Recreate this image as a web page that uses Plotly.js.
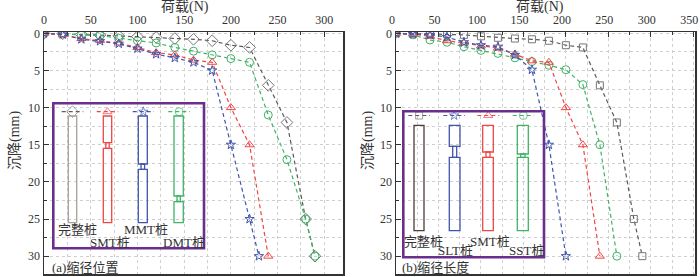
<!DOCTYPE html>
<html><head><meta charset="utf-8">
<script src="https://cdn.plot.ly/plotly-3.0.1.min.js"></script>
<style>html,body{margin:0;padding:0;background:#fff}#chart{width:700px;height:277px}</style>
</head><body><div id="chart"></div>
<script>
// ---------- (a) 缩径位置 ----------
const loadA_intact = [0,20,40,60,80,100,120,140,160,180,200,220,240,260,280,290];
const setA_intact  = [0,0.05,0.15,0.25,0.35,0.45,0.55,0.7,0.8,1.0,1.6,1.9,7.0,12.0,25,30];
const loadA_smt = [0,20,40,60,80,100,120,140,160,180,200,220,240];
const setA_smt  = [0,0.2,0.7,0.95,1.3,1.9,2.6,2.9,3.6,3.9,10,15,30];
const loadA_mmt = [0,20,40,60,80,100,120,140,160,180,200,220,230];
const setA_mmt  = [0,0.15,0.8,1.05,1.4,2.05,2.8,3.3,3.9,5.0,15,25,30];
const loadA_dmt = [0,20,40,60,80,100,120,140,160,180,200,220,240,260,280,290];
const setA_dmt  = [0,0.1,0.25,0.3,0.65,1.0,1.3,1.9,2.4,2.9,3.4,3.9,11,17,25,30];
const namesA = ['完整桩','SMT桩','MMT桩','DMT桩'];

// ---------- (b) 缩径长度 ----------
const loadB_intact = [0,20,40,60,80,100,120,140,160,180,200,220,240,260,280,290];
const setB_intact  = [0,0.05,0.1,0.1,0.2,0.4,0.6,0.7,0.8,1.0,1.6,1.9,7.0,12,25,30];
const loadB_slt = [0,20,40,60,80,100,120,140,160,180,200];
const setB_slt  = [0,0.1,0.2,0.5,1.2,1.6,1.8,2.9,4.9,15,30];
const loadB_smt = [0,20,40,60,80,100,120,140,160,180,200,220,240];
const setB_smt  = [0,0.1,0.4,1.0,1.3,1.7,2.0,2.8,3.7,3.9,10,15,30];
const loadB_sst = [0,20,40,60,80,100,120,140,160,180,200,220,240,260];
const setB_sst  = [0,0.2,0.9,1.2,1.8,2.3,2.7,3.3,3.8,4.3,4.9,6.9,15,30];
const namesB = ['完整桩','SLT桩','SMT桩','SST桩'];

const xTitle = '荷载(N)';
const yTitle = '沉降(mm)';
const panelA = '(a)缩径位置';
const panelB = '(b)缩径长度';

const C = {k:'#5a5a5a', km:'#777777', r:'#f04646', b:'#3f55ad', g:'#3fb368'};
const FONT = 'Liberation Serif, "Noto Sans CJK SC", serif';
const W = 700, H = 277;

function series(x, y, col, mcol, sym, xa, ya, size){
  return {x:x, y:y, xaxis:xa, yaxis:ya, type:'scatter', mode:'lines+markers',
    line:{color:col, width:1.2, dash:'4px,3px'},
    marker:{symbol:sym, size:size||8, color:mcol, line:{color:mcol, width:1}},
    showlegend:false, hoverinfo:'skip'};
}

const traces = [
  series(loadA_intact, setA_intact, C.k, C.km, 'diamond-open', 'x', 'y', 9),
  series(loadA_dmt, setA_dmt, C.g, C.g, 'circle-open', 'x', 'y'),
  series(loadA_smt, setA_smt, C.r, C.r, 'triangle-up-open', 'x', 'y'),
  series(loadA_mmt, setA_mmt, C.b, C.b, 'star-open', 'x', 'y', 7),
  series(loadB_intact, setB_intact, C.k, C.km, 'square-open', 'x2', 'y2', 7),
  series(loadB_sst, setB_sst, C.g, C.g, 'circle-open', 'x2', 'y2'),
  series(loadB_smt, setB_smt, C.r, C.r, 'triangle-up-open', 'x2', 'y2'),
  series(loadB_slt, setB_slt, C.b, C.b, 'star-open', 'x2', 'y2', 7),
];

// legend glyphs (pixel overlay axes x3/y3)
function glyph(x1, x2, y, col, mcol, sym, size){
  return {x:[x1,(x1+x2)/2,x2], y:[y,y,y], xaxis:'x3', yaxis:'y3', type:'scatter',
    mode:'lines+markers', line:{color:col, width:1.2, dash:'4px,3px'},
    marker:{symbol:sym, size:[0,size||8,0], color:mcol, line:{color:mcol,width:1}},
    showlegend:false, hoverinfo:'skip'};
}
traces.push(
  glyph(61.7,83.3,111.7,C.k,C.km,'diamond-open',9),
  glyph(96.7,118.3,111.7,C.r,C.r,'triangle-up-open'),
  glyph(132.7,154,111.7,C.b,C.b,'star-open',7),
  glyph(168.3,190,111.7,C.g,C.g,'circle-open'),
  glyph(408.3,430,115.5,C.k,C.km,'square-open',7),
  glyph(443.3,465,115.5,C.b,C.b,'star-open',7),
  glyph(477.3,499.3,115.5,C.r,C.r,'triangle-up-open'),
  glyph(512.7,534,115.5,C.g,C.g,'circle-open')
);

const shapes = [];
function rect(x0,y0,x1,y1,col,w){
  shapes.push({type:'rect', xref:'x3', yref:'y3', x0:x0, x1:x1, y0:y0, y1:y1,
    line:{color:col, width:w||1.3}, fillcolor:'rgba(0,0,0,0)'});
}
// pile drawing: [xl, xr, top, bottom, neck-left, neck-right, neckTop, neckBottom]
function pile(p, col){
  if (p.length === 4) { rect(p[0],p[2],p[1],p[3],col); return; }
  rect(p[0],p[2],p[1],p[6],col);
  rect(p[4],p[6],p[5],p[7],col);
  rect(p[0],p[7],p[1],p[3],col);
}
// legend boxes
rect(53.3,103.3,204,248.3,'#6a2f8c',2.6);
rect(403.3,111.3,544,257.3,'#6a2f8c',2.6);
// (a) piles
pile([68.3,76.7,116,222.7],'#ac9f9c');
pile([103.3,111.7,116,222.7,105.8,109.2,142.7,148.3],C.r);
pile([138.3,147.3,116,222.7,141,144.6,164,169.3],C.b);
pile([174,183.3,116,222.7,177,180.3,196,201.7],C.g);
// (b) piles
pile([414,424,125.3,230.7],'#4c3d3b');
pile([449.3,460,125.3,230.7,452.7,456.7,146.3,157.3],C.b);
pile([482.7,493.3,125.3,230.7,486,490,152,157.3],C.r);
pile([517.3,528.3,125.3,230.7,520.7,525,154,157.3],C.g);

const annotations = [];
function txt(t,x,y,size,anchor,angle){
  annotations.push({text:t, xref:'x3', yref:'y3', x:x, y:y, showarrow:false,
    xanchor:anchor||'center', yanchor:'middle', textangle:angle||0,
    font:{family:FONT, size:size||13, color:'#333'}});
}
txt(xTitle,185,7,14); txt(xTitle,540,7,14);
txt(yTitle,15,141,14,'center',-90); txt(yTitle,368,141,14,'center',-90);
txt(panelA,50,267,13,'left'); txt(panelB,400,267,13,'left');
txt(namesA[0],77,229,13); txt(namesA[1],110,242.5,13);
txt(namesA[2],146,229,13); txt(namesA[3],183.5,242.5,13);
txt(namesB[0],423.5,241,13); txt(namesB[1],455,250.5,13);
txt(namesB[2],489.5,241,13); txt(namesB[3],526,250.5,13);

function xax(domain, rng){
  return {domain:domain, range:rng, side:'top', dtick:50, tick0:0, ticks:'inside', ticklen:5,
    tickcolor:'#333', tickwidth:1, showgrid:true, gridcolor:'#cfcfcf', griddash:'dot', gridwidth:1,
    minor:{dtick:25, tick0:0, ticks:'inside', ticklen:3, tickcolor:'#333', showgrid:true,
      gridcolor:'#cfcfcf', griddash:'dot', gridwidth:1},
    showline:true, linecolor:'#333', linewidth:1.5, mirror:true, zeroline:false, automargin:false,
    ticklabelstandoff:2,
    tickfont:{family:FONT, size:12, color:'#333'}, fixedrange:true};
}
function yax(anchor){
  return {domain:[3/H, 245/H], range:[32.4,-0.18], dtick:5, tick0:0, ticks:'inside', ticklen:5,
    tickcolor:'#333', tickwidth:1, showgrid:true, gridcolor:'#cfcfcf', griddash:'dot', gridwidth:1,
    minor:{dtick:2.5, tick0:0, ticks:'inside', ticklen:3, tickcolor:'#333', showgrid:true,
      gridcolor:'#cfcfcf', griddash:'dot', gridwidth:1},
    showline:true, linecolor:'#333', linewidth:1.5, mirror:true, zeroline:false, automargin:false,
    anchor:anchor, tickfont:{family:FONT, size:12, color:'#333'}, fixedrange:true};
}
const xa1 = xax([44/W, 343/W],[0,320]); xa1.anchor='y';
const xa2 = xax([396/W, 695/W],[0,352]); xa2.anchor='y2';
xa2.ticklabelshift = -4;
xa2.ticklabeloverflow = 'allow';

const layout = {
  width:W, height:H, margin:{l:0,r:0,t:0,b:0},
  paper_bgcolor:'#ffffff', plot_bgcolor:'rgba(0,0,0,0)',
  xaxis:xa1, yaxis:yax('x'), xaxis2:xa2, yaxis2:yax('x2'),
  xaxis3:{domain:[0,1], range:[0,W], visible:false, anchor:'y3', fixedrange:true},
  yaxis3:{domain:[0,1], range:[H,0], visible:false, anchor:'x3', fixedrange:true},
  shapes:shapes, annotations:annotations, showlegend:false
};
Plotly.newPlot('chart', traces, layout, {staticPlot:true, displayModeBar:false});
</script></body></html>
